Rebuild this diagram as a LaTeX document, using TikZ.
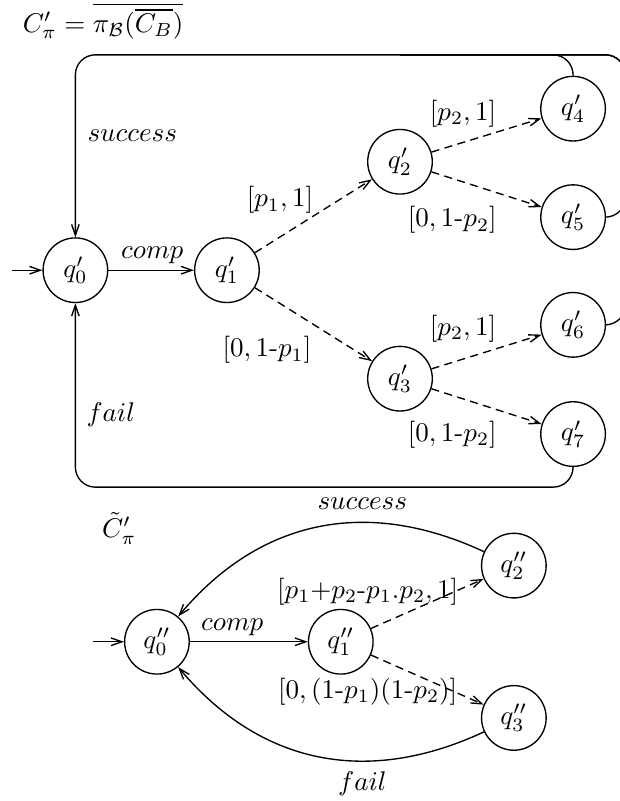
\documentclass[tikz,border=0pt]{standalone}
\usepackage{amsmath,amssymb}
\usepackage{tikz}
\usetikzlibrary{arrows.meta,positioning,calc}
\tikzset{
  mcstate/.style={draw=black, circle, line width=0.5pt, minimum size=8.4mm, inner sep=0pt},
  mcline/.style={-{Straight Barb[length=4pt,width=2.8pt]}, line width=0.5pt},
  mcdash/.style={-{Straight Barb[length=4pt,width=2.8pt]}, line width=0.5pt, dash pattern=on 3pt off 2pt},
  mcframe/.style={line width=0.5pt, rounded corners=2.6mm}
}

\begin{document}
\begin{tikzpicture}
  \useasboundingbox (0,0) rectangle (8.06,10.413);

  % upper automaton
  \node[anchor=west, inner sep=0pt] (title) at (0.29,10.14) {$C'_\pi = \overline{\pi_{\mathcal{B}}(\overline{C_B})}$};

  \node[mcstate] (q0) at (0.98,6.90) {$q'_0$};
  \node[mcstate] (q1) at (2.95,6.90) {$q'_1$};
  \node[mcstate] (q2) at (5.20,8.31) {$q'_2$};
  \node[mcstate] (q3) at (5.20,5.49) {$q'_3$};
  \node[mcstate] (q4) at (7.45,9.00) {$q'_4$};
  \node[mcstate] (q5) at (7.45,7.59) {$q'_5$};
  \node[mcstate] (q6) at (7.45,6.19) {$q'_6$};
  \node[mcstate] (q7) at (7.45,4.77) {$q'_7$};

  \coordinate (start) at (0.16,6.90);
  \coordinate (frametop) at (0,9.70);
  \coordinate (framebot) at (0,4.08);
  \coordinate (frameright) at (8.13,0);

  \draw[mcline] (start) -- (q0.west);
  \draw[mcline] (q0.east) -- (q1.west);
  \draw[mcdash] (q1) -- (q2);
  \draw[mcdash] (q1) -- (q3);
  \draw[mcdash] (q2) -- (q4);
  \draw[mcdash] (q2) -- (q5);
  \draw[mcdash] (q3) -- (q6);
  \draw[mcdash] (q3) -- (q7);

  \draw[mcline, mcframe] (q4.north) |- (q0 |- frametop) -- (q0.north);
  \draw[mcframe] (q5.east) -| (frameright |- frametop) -- (q2 |- frametop);
  \draw[mcframe] (q6.east) -| (frameright |- frametop) -- (q2 |- frametop);
  \draw[mcline, mcframe] (q7.south) |- (q0 |- framebot) -- (q0.south);

  \node (succA) at (1.72,8.65) {$success$};
  \node (compA) at (1.98,7.10) {$comp$};
  \node (failA) at (1.44,5.02) {$fail$};
  \node (l12) at (3.64,7.81) {$[p_1, 1]$};
  \node (l13) at (3.47,5.86) {$[0, 1\mbox{-}p_1]$};
  \node (l24) at (6.02,8.93) {$[p_2, 1]$};
  \node (l25) at (5.88,7.55) {$[0, 1\mbox{-}p_2]$};
  \node (l36) at (6.02,6.14) {$[p_2, 1]$};
  \node (l37) at (5.88,4.76) {$[0, 1\mbox{-}p_2]$};

  % lower automaton
  \node (title2) at (1.55,3.54) {$\tilde{C}'_\pi$};

  \node[mcstate] (r0) at (2.04,2.07) {$q''_0$};
  \node[mcstate] (r1) at (4.43,2.07) {$q''_1$};
  \node[mcstate] (r2) at (6.68,3.06) {$q''_2$};
  \node[mcstate] (r3) at (6.68,1.08) {$q''_3$};

  \coordinate (start2) at (1.21,2.07);

  \draw[mcline] (start2) -- (r0.west);
  \draw[mcline] (r0.east) -- (r1.west);
  \draw[mcdash] (r1) -- (r2);
  \draw[mcdash] (r1) -- (r3);
  \draw[mcline] (r2) to[out=155, in=50, looseness=1.05] (r0);
  \draw[mcline] (r3) to[out=205, in=-50, looseness=1.05] (r0);

  \node (succB) at (4.71,3.86) {$success$};
  \node (compB) at (3.02,2.26) {$comp$};
  \node (failB) at (4.71,0.22) {$fail$};
  \node (l12b) at (4.78,2.72) {$[p_1{+}p_2\mbox{-}p_1.p_2, 1]$};
  \node (l13b) at (4.78,1.42) {$[0, (1\mbox{-}p_1)(1\mbox{-}p_2)]$};
\end{tikzpicture}
\end{document}
